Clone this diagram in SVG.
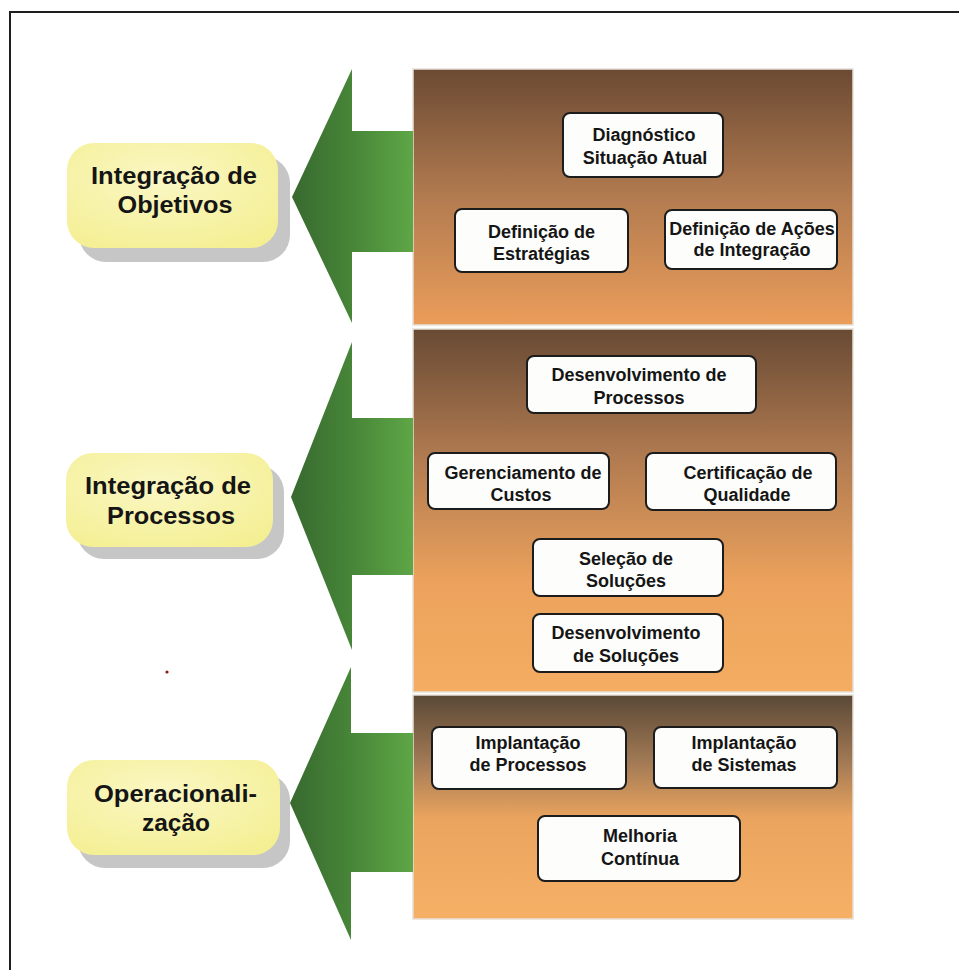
<svg xmlns="http://www.w3.org/2000/svg" width="959" height="970" viewBox="0 0 959 970">
  <defs>
    <linearGradient id="gArrow" x1="0" y1="0" x2="1" y2="0">
      <stop offset="0" stop-color="#38692f"/>
      <stop offset="0.5" stop-color="#478638"/>
      <stop offset="1" stop-color="#5ea646"/>
    </linearGradient>
    <linearGradient id="gPanel1" x1="0" y1="0" x2="0" y2="1">
      <stop offset="0" stop-color="#6b4a33"/>
      <stop offset="0.5" stop-color="#b27b50"/>
      <stop offset="1" stop-color="#eb9d5a"/>
    </linearGradient>
    <linearGradient id="gPanel2" x1="0" y1="0" x2="0" y2="1">
      <stop offset="0" stop-color="#684a34"/>
      <stop offset="0.35" stop-color="#b07a50"/>
      <stop offset="0.7" stop-color="#eca25c"/>
      <stop offset="1" stop-color="#f4ad62"/>
    </linearGradient>
    <linearGradient id="gPanel3" x1="0" y1="0" x2="0" y2="1">
      <stop offset="0" stop-color="#5a4836"/>
      <stop offset="0.3" stop-color="#a27a55"/>
      <stop offset="0.55" stop-color="#eaa45e"/>
      <stop offset="1" stop-color="#f6b066"/>
    </linearGradient>
    <radialGradient id="gPill" cx="0.45" cy="0.35" r="0.75">
      <stop offset="0" stop-color="#faf7c4"/>
      <stop offset="1" stop-color="#f4ef92"/>
    </radialGradient>
  </defs>
  <style>
    .frame { fill: none; stroke: #1e1e1e; stroke-width: 2; }
    .panel { stroke: #e6e0d8; stroke-width: 1.5; }
    .box { fill: #fdfdfb; stroke: #1c1c1c; stroke-width: 2; }
    .box-text { font-family: "Liberation Sans", Arial, sans-serif; font-weight: bold; font-size: 18px; fill: #151515; text-anchor: middle; }
    .pill { fill: url(#gPill); }
    .pill-shadow { fill: #c6c6c6; }
    .pill-text { font-family: "Liberation Sans", Arial, sans-serif; font-weight: bold; font-size: 23px; fill: #151515; text-anchor: middle; }
    .arrow { fill: url(#gArrow); }
  </style>

  <rect width="959" height="970" fill="#ffffff"/>
  <rect class="frame" x="10" y="12" width="970" height="980"/>

  <!-- stage panels -->
  <g id="panels">
    <rect id="panel-objetivos" class="panel" x="413" y="69" width="440" height="256" fill="url(#gPanel1)"/>
    <rect id="panel-processos" class="panel" x="413" y="329" width="440" height="363" fill="url(#gPanel2)"/>
    <rect id="panel-operacionalizacao" class="panel" x="413" y="695" width="440" height="224" fill="url(#gPanel3)"/>
  </g>

  <!-- arrows pointing from each panel to its stage label -->
  <g id="connectors">
    <polygon class="arrow" points="292,197 352,69 352,131 413,131 413,252 352,252 352,323"/>
    <polygon class="arrow" points="291,497 352,342 352,418 413,418 413,575 352,575 352,650"/>
    <polygon class="arrow" points="290,803 351,667 351,733 413,733 413,872 351,872 351,940"/>
  </g>

  <!-- stage labels -->
  <g id="label-objetivos">
    <rect class="pill-shadow" x="79" y="156" width="211" height="106" rx="27"/>
    <rect class="pill" x="67" y="143" width="211" height="105" rx="27"/>
    <text class="pill-text" x="174" y="184" textLength="166" lengthAdjust="spacingAndGlyphs">Integração de</text>
    <text class="pill-text" x="175" y="213" textLength="115" lengthAdjust="spacingAndGlyphs">Objetivos</text>
  </g>
  <g id="label-processos">
    <rect class="pill-shadow" x="77" y="465" width="207" height="94" rx="27"/>
    <rect class="pill" x="66" y="453" width="207" height="94" rx="27"/>
    <text class="pill-text" x="168" y="494" textLength="166" lengthAdjust="spacingAndGlyphs">Integração de</text>
    <text class="pill-text" x="171" y="524" textLength="128" lengthAdjust="spacingAndGlyphs">Processos</text>
  </g>
  <g id="label-operacionalizacao">
    <rect class="pill-shadow" x="78" y="773" width="212" height="95" rx="27"/>
    <rect class="pill" x="67" y="760" width="213" height="95" rx="27"/>
    <text class="pill-text" x="175.5" y="802" textLength="163" lengthAdjust="spacingAndGlyphs">Operacionali-</text>
    <text class="pill-text" x="176" y="831" textLength="68" lengthAdjust="spacingAndGlyphs">zação</text>
  </g>

  <!-- activity boxes: Integração de Objetivos -->
  <g id="box-diagnostico">
    <rect class="box" x="563" y="113" width="160" height="64" rx="7"/>
    <text class="box-text" x="644" y="141">Diagnóstico</text>
    <text class="box-text" x="645" y="164">Situação Atual</text>
  </g>
  <g id="box-estrategias">
    <rect class="box" x="455" y="209" width="173" height="63" rx="7"/>
    <text class="box-text" x="541.5" y="238">Definição de</text>
    <text class="box-text" x="541.5" y="260">Estratégias</text>
  </g>
  <g id="box-acoes">
    <rect class="box" x="665" y="210" width="172" height="59" rx="7"/>
    <text class="box-text" x="752" y="235">Definição de Ações</text>
    <text class="box-text" x="752" y="256">de Integração</text>
  </g>

  <!-- activity boxes: Integração de Processos -->
  <g id="box-desenv-processos">
    <rect class="box" x="527" y="356" width="229" height="57" rx="7"/>
    <text class="box-text" x="639" y="381">Desenvolvimento de</text>
    <text class="box-text" x="639" y="404">Processos</text>
  </g>
  <g id="box-custos">
    <rect class="box" x="428" y="453" width="181" height="56" rx="7"/>
    <text class="box-text" x="523" y="479">Gerenciamento de</text>
    <text class="box-text" x="521" y="501">Custos</text>
  </g>
  <g id="box-qualidade">
    <rect class="box" x="646" y="453" width="190" height="57" rx="7"/>
    <text class="box-text" x="748" y="479">Certificação de</text>
    <text class="box-text" x="747" y="501">Qualidade</text>
  </g>
  <g id="box-selecao">
    <rect class="box" x="533" y="539" width="190" height="57" rx="7"/>
    <text class="box-text" x="626" y="565">Seleção de</text>
    <text class="box-text" x="626" y="587">Soluções</text>
  </g>
  <g id="box-desenv-solucoes">
    <rect class="box" x="533" y="614" width="190" height="58" rx="7"/>
    <text class="box-text" x="626" y="639">Desenvolvimento</text>
    <text class="box-text" x="626" y="662">de Soluções</text>
  </g>

  <!-- activity boxes: Operacionalização -->
  <g id="box-impl-processos">
    <rect class="box" x="432" y="727" width="194" height="62" rx="7"/>
    <text class="box-text" x="528" y="749">Implantação</text>
    <text class="box-text" x="528" y="771">de Processos</text>
  </g>
  <g id="box-impl-sistemas">
    <rect class="box" x="654" y="727" width="183" height="61" rx="7"/>
    <text class="box-text" x="744" y="749">Implantação</text>
    <text class="box-text" x="744" y="771">de Sistemas</text>
  </g>
  <g id="box-melhoria">
    <rect class="box" x="538" y="816" width="202" height="65" rx="7"/>
    <text class="box-text" x="640" y="842">Melhoria</text>
    <text class="box-text" x="640" y="865">Contínua</text>
  </g>

  <circle cx="167" cy="672" r="1.6" fill="#8a1c1c"/>
</svg>
